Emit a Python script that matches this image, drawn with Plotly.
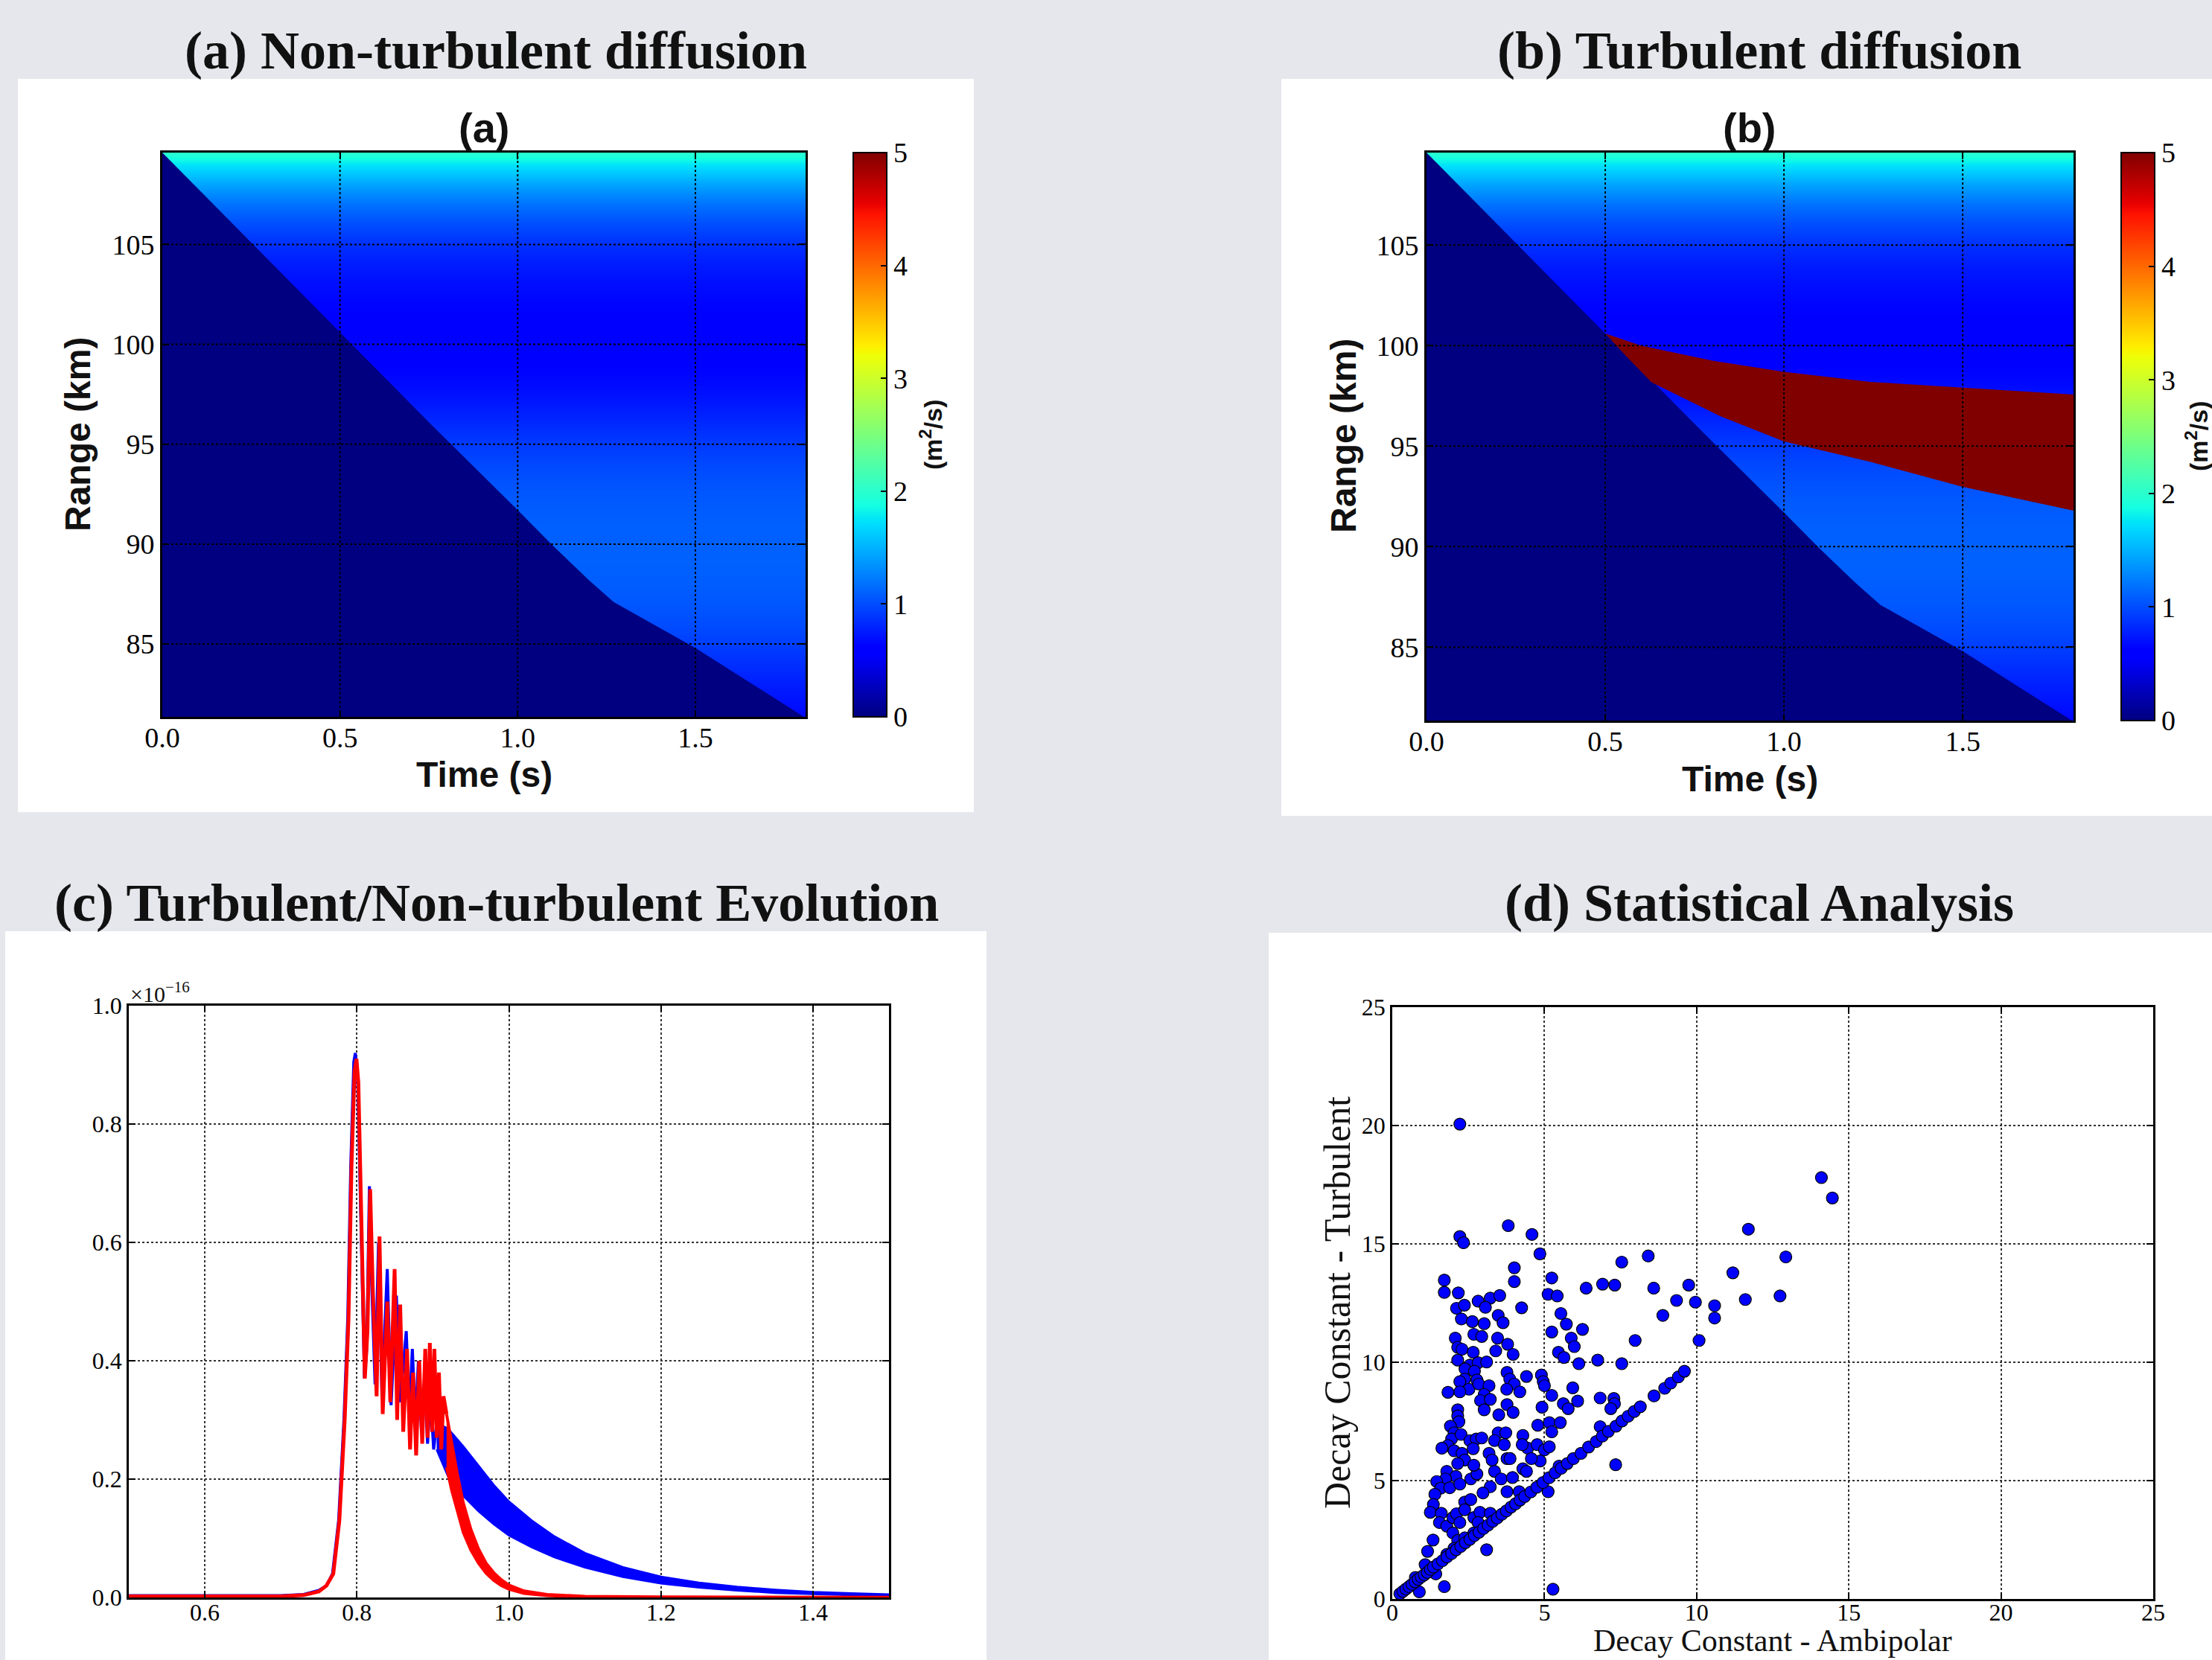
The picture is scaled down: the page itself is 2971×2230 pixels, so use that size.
import plotly.graph_objects as go

W, H = 2971, 2230


def px(x):
    return x / W


def py(y):
    return 1 - y / H


# ---------------- DATA ----------------
# Panels (a)/(b): background diffusion coefficient profile (m^2/s) vs range (km)
alt_km = [81.0, 82.0, 83.0, 84.0, 85.0, 86.0, 87.0, 88.0, 89.0, 90.0, 91.0, 92.0,
          93.0, 94.0, 95.0, 96.0, 97.0, 98.0, 99.0, 100.0, 101.0, 102.0, 103.0,
          104.0, 105.0, 106.0, 107.0, 107.5, 108.0, 108.5, 109.0, 109.5, 110.0]
diff_profile = [0.63, 0.70, 0.77, 0.85, 0.93, 1.00, 1.05, 1.08, 1.10, 1.10, 1.09, 1.07,
                1.03, 0.98, 0.91, 0.83, 0.74, 0.67, 0.62, 0.60, 0.61, 0.64, 0.69,
                0.76, 0.86, 1.00, 1.18, 1.30, 1.43, 1.58, 1.75, 1.95, 2.15]
time_cols = [0.0, 1.81]

# meteor front (below/left of it: no diffusion, value 0)
front_t = [0.0, 0.25, 0.5, 0.75, 1.0, 1.1, 1.2, 1.27, 1.35, 1.5, 1.65, 1.81]
front_km = [109.6, 105.1, 100.6, 96.1, 91.7, 89.9, 88.2, 87.1, 86.3, 84.8, 83.1, 81.3]

# turbulent layer (panel b, value 5)
red_top_t = [0.5, 0.6, 0.8, 1.0, 1.24, 1.5, 1.81]
red_top_km = [100.6, 100.0, 99.25, 98.7, 98.2, 97.9, 97.57]
red_bot_t = [0.5, 0.56, 0.63, 0.82, 1.0, 1.24, 1.5, 1.81]
red_bot_km = [100.6, 99.45, 98.17, 96.5, 95.23, 94.23, 92.98, 91.79]

T_RANGE = [0.0, 1.81]
KM_RANGE = [81.35, 109.6]
t_ticks = [0.0, 0.5, 1.0, 1.5]
km_ticks = [85, 90, 95, 100, 105]
cb_ticks = [0, 1, 2, 3, 4, 5]

# Panel (c): signal evolution (units of 1e-16)
blue_t = [0.50, 0.60, 0.70, 0.73, 0.75, 0.76, 0.768, 0.776, 0.783, 0.788, 0.792, 0.796,
          0.798, 0.801, 0.804, 0.807, 0.810, 0.813, 0.8165, 0.819, 0.824, 0.8285, 0.833,
          0.840, 0.845, 0.852, 0.857, 0.865, 0.869, 0.873, 0.877, 0.881, 0.885, 0.889,
          0.893, 0.897, 0.901, 0.905]
blue_v = [0.003, 0.003, 0.003, 0.005, 0.012, 0.02, 0.04, 0.13, 0.30, 0.47, 0.73, 0.905,
          0.92, 0.88, 0.70, 0.50, 0.37, 0.42, 0.695, 0.55, 0.36, 0.60, 0.34,
          0.555, 0.325, 0.51, 0.33, 0.45, 0.31, 0.42, 0.30, 0.40, 0.28, 0.37,
          0.26, 0.34, 0.25, 0.295]
blue_band_t = [0.905, 0.92, 0.94, 0.96, 0.98, 1.00, 1.03, 1.06, 1.10, 1.15, 1.20, 1.25,
               1.30, 1.35, 1.40, 1.45, 1.50]
blue_upper = [0.295, 0.285, 0.255, 0.222, 0.19, 0.162, 0.13, 0.103, 0.075, 0.051, 0.035,
              0.025, 0.018, 0.013, 0.009, 0.007, 0.005]
blue_lower = [0.25, 0.205, 0.172, 0.146, 0.124, 0.105, 0.085, 0.068, 0.051, 0.035, 0.024,
              0.017, 0.012, 0.008, 0.006, 0.004, 0.003]

red_t = [0.50, 0.60, 0.70, 0.73, 0.75, 0.76, 0.769, 0.777, 0.784, 0.789, 0.793, 0.797,
         0.7995, 0.802, 0.805, 0.808, 0.8105, 0.814, 0.8175, 0.821, 0.826, 0.8298, 0.834,
         0.840, 0.844, 0.8497, 0.853, 0.857, 0.861, 0.866, 0.870, 0.874, 0.878, 0.882,
         0.886, 0.890, 0.893, 0.896, 0.899, 0.902, 0.905, 0.908, 0.911, 0.914, 0.918]
red_v = [0.002, 0.002, 0.002, 0.004, 0.01, 0.02, 0.04, 0.13, 0.30, 0.47, 0.73, 0.89,
         0.91, 0.87, 0.70, 0.50, 0.37, 0.45, 0.69, 0.52, 0.34, 0.61, 0.31,
         0.50, 0.33, 0.555, 0.30, 0.495, 0.28, 0.42, 0.25, 0.38, 0.24, 0.40,
         0.26, 0.42, 0.27, 0.43, 0.28, 0.42, 0.27, 0.38, 0.25, 0.34, 0.31]
red_band_t = [0.918, 0.925, 0.932, 0.94, 0.95, 0.96, 0.97, 0.98, 0.99, 1.00, 1.02, 1.05,
              1.10, 1.20, 1.30, 1.50]
red_upper = [0.31, 0.26, 0.21, 0.16, 0.115, 0.082, 0.058, 0.042, 0.030, 0.021, 0.011,
             0.005, 0.002, 0.001, 0.0007, 0.0005]
red_lower = [0.22, 0.18, 0.145, 0.11, 0.08, 0.058, 0.041, 0.029, 0.020, 0.014, 0.007,
             0.003, 0.001, 0.0005, 0.0003, 0.0002]
c_xticks = [0.6, 0.8, 1.0, 1.2, 1.4]
c_yticks = [0.0, 0.2, 0.4, 0.6, 0.8, 1.0]

# Panel (d): decay constants
scatter_pts = [
    (2.22, 20.06), (14.1, 17.8), (14.46, 16.94), (11.70, 15.62), (12.93, 14.45), (11.19, 13.78),
    (3.81, 15.77), (2.22, 15.31), (2.34, 15.05), (4.59, 15.40), (4.85, 14.58), (8.41, 14.49),
    (7.54, 14.23), (4.01, 13.99), (4.01, 13.41), (5.24, 13.56), (1.71, 13.47), (1.71, 12.95),
    (2.17, 12.93), (2.11, 12.28), (2.37, 12.41), (5.12, 12.87), (5.42, 12.80), (6.37, 13.13),
    (6.91, 13.30), (7.31, 13.26), (8.59, 13.13), (9.74, 13.26), (9.34, 12.61), (9.96, 12.54),
    (10.59, 12.39), (11.60, 12.65), (12.74, 12.80), (8.89, 11.98), (10.59, 11.87), (10.08, 10.92),
    (7.98, 10.92), (4.25, 12.30), (2.82, 12.58), (3.22, 12.71), (3.53, 12.82), (3.06, 12.32),
    (2.27, 11.83), (2.63, 11.72), (3.02, 11.63), (3.48, 11.98), (3.64, 11.67), (2.07, 11.02),
    (2.68, 11.18), (2.94, 11.09), (3.46, 11.02), (3.79, 10.76), (2.15, 10.63), (2.29, 10.55),
    (2.66, 10.42), (3.40, 10.48), (3.97, 10.33), (2.15, 10.09), (2.55, 9.88), (2.82, 9.98),
    (3.10, 10.01), (5.24, 11.28), (5.54, 12.06), (5.72, 11.61), (6.25, 11.39), (5.88, 11.02),
    (5.46, 10.42), (5.64, 10.20), (5.98, 10.66), (6.13, 9.94), (6.75, 10.09), (7.54, 9.94),
    (2.39, 9.72), (2.70, 9.62), (2.38, 9.29), (2.78, 9.25), (2.22, 9.18), (2.52, 8.86),
    (2.22, 8.75), (1.83, 8.73), (2.84, 9.08), (3.18, 9.01), (3.02, 8.64), (3.77, 9.57),
    (3.86, 9.29), (4.01, 9.08), (3.76, 8.86), (4.19, 8.75), (4.41, 9.40), (4.90, 9.46),
    (4.96, 9.18), (5.00, 9.01), (5.24, 8.60), (5.93, 8.92), (6.09, 8.36), (5.62, 8.25),
    (5.78, 8.04), (4.92, 8.10), (2.90, 8.38), (3.22, 8.43), (3.02, 7.99), (2.15, 7.99),
    (2.15, 7.73), (2.19, 7.49), (3.77, 8.21), (3.97, 7.88), (3.50, 7.78), (3.48, 7.02),
    (3.73, 7.02), (4.29, 6.91), (4.78, 7.34), (5.16, 7.45), (5.52, 7.45), (5.24, 7.06),
    (6.83, 8.49), (7.28, 8.47), (7.30, 8.25), (7.18, 8.04), (6.83, 7.28), (7.34, 5.67),
    (1.91, 7.30), (2.03, 7.02), (1.95, 6.76), (2.26, 6.95), (1.83, 6.48), (1.63, 6.37),
    (2.03, 6.26), (2.29, 6.15), (2.55, 6.69), (2.76, 6.76), (2.94, 6.80), (2.66, 6.35),
    (2.38, 5.87), (2.15, 5.72), (1.79, 5.39), (2.09, 5.18), (1.75, 5.07), (1.46, 4.96),
    (1.59, 4.68), (1.89, 4.70), (2.22, 4.85), (2.58, 5.07), (2.78, 5.28), (2.68, 5.65),
    (3.18, 6.15), (3.28, 5.87), (3.36, 6.69), (3.68, 6.52), (3.36, 5.39), (3.22, 4.74),
    (2.98, 4.48), (3.58, 5.07), (3.77, 5.93), (3.87, 5.93), (3.95, 5.13), (4.29, 5.50),
    (4.45, 6.37), (4.27, 6.52), (4.76, 6.52), (5.00, 6.30), (5.16, 6.43), (4.86, 5.83),
    (4.57, 5.93), (4.41, 5.39), (4.17, 4.53), (3.77, 4.53), (5.12, 4.53), (5.48, 5.61),
    (1.40, 4.42), (1.35, 3.99), (1.25, 3.66), (1.61, 3.62), (1.55, 3.23), (1.79, 3.08),
    (1.99, 3.44), (2.11, 3.60), (2.22, 3.23), (2.38, 4.09), (2.58, 4.20), (2.38, 3.77),
    (2.68, 3.44), (2.88, 3.66), (3.22, 3.62), (2.82, 3.23), (1.99, 2.79), (2.15, 2.47),
    (2.38, 2.58), (2.68, 2.79), (2.03, 2.14), (1.79, 1.88), (1.34, 2.49), (1.16, 2.01),
    (3.10, 2.08), (1.71, 0.52), (0.89, 0.30), (5.28, 0.41), (0.76, 0.91), (1.43, 1.06),
    (1.08, 1.45),
    # points along the one-to-one line
    (0.25, 0.22), (0.35, 0.32), (0.45, 0.42), (0.55, 0.52), (0.65, 0.62), (0.75, 0.72),
    (0.85, 0.83), (0.95, 0.93), (1.05, 1.02), (1.15, 1.12), (1.25, 1.25), (1.35, 1.35),
    (1.5, 1.48), (1.65, 1.62), (1.8, 1.78), (1.95, 1.92), (2.1, 2.08), (2.25, 2.22),
    (2.4, 2.38), (2.55, 2.52), (2.7, 2.68), (2.85, 2.82), (3.0, 2.98), (3.15, 3.12),
    (3.3, 3.28), (3.45, 3.42), (3.6, 3.58), (3.75, 3.72), (3.9, 3.88), (4.05, 4.02),
    (4.2, 4.18), (4.35, 4.33), (4.55, 4.52), (4.75, 4.72), (4.95, 4.92), (5.15, 5.12),
    (5.35, 5.33), (5.55, 5.52), (5.75, 5.72), (5.95, 5.93), (6.2, 6.15), (6.45, 6.42),
    (6.7, 6.65), (6.9, 6.88), (7.1, 7.08), (7.35, 7.3), (7.55, 7.52), (7.75, 7.72),
    (7.95, 7.92), (8.15, 8.12), (8.6, 8.58), (8.95, 8.9), (9.15, 9.12), (9.4, 9.38),
    (9.6, 9.62),
]
decay_ambipolar = [p[0] for p in scatter_pts]
decay_turbulent = [p[1] for p in scatter_pts]
d_ticks = [0, 5, 10, 15, 20, 25]

# ---------------- STYLE ----------------
BG = '#e6e7ec'
SERIF = 'Liberation Serif'
SANS = 'Liberation Sans'
JET = [[0.0, 'rgb(0,0,128)'], [0.11, 'rgb(0,0,255)'], [0.125, 'rgb(0,0,255)'],
       [0.34, 'rgb(0,219,255)'], [0.35, 'rgb(0,229,247)'], [0.375, 'rgb(21,255,226)'],
       [0.64, 'rgb(238,255,8)'], [0.65, 'rgb(247,246,0)'], [0.66, 'rgb(255,236,0)'],
       [0.89, 'rgb(255,19,0)'], [0.91, 'rgb(232,0,0)'], [1.0, 'rgb(128,0,0)']]
NAVY = 'rgb(0,0,128)'
DARKRED = 'rgb(128,0,0)'

fig = go.Figure()


def colorbar(x0, ytop, ybot):
    return dict(x=px(x0), xanchor='left', y=py((ytop + ybot) / 2), yanchor='middle',
                lenmode='pixels', len=ybot - ytop, thicknessmode='pixels', thickness=45,
                xpad=0, ypad=0, outlinewidth=2, outlinecolor='black',
                tickvals=cb_ticks, ticktext=[str(v) for v in cb_ticks],
                ticks='inside', ticklen=9, tickwidth=2, tickcolor='black',
                tickfont=dict(family=SERIF, size=38, color='black'))


zgrid = [[v for _ in time_cols] for v in diff_profile]

# Panel (a)
fig.add_trace(go.Heatmap(x=time_cols, y=alt_km, z=zgrid, colorscale=JET, zmin=0, zmax=5,
                         zsmooth='best', xaxis='x', yaxis='y', hoverinfo='skip',
                         colorbar=colorbar(1146, 205, 963)))
fig.add_trace(go.Scatter(x=front_t + [T_RANGE[0]], y=front_km + [KM_RANGE[0]], fill='toself',
                         fillcolor=NAVY, mode='lines', line=dict(width=0, color=NAVY),
                         xaxis='x', yaxis='y', showlegend=False, hoverinfo='skip'))
# Panel (b)
fig.add_trace(go.Heatmap(x=time_cols, y=alt_km, z=zgrid, colorscale=JET, zmin=0, zmax=5,
                         zsmooth='best', xaxis='x2', yaxis='y2', hoverinfo='skip',
                         colorbar=colorbar(2849, 205, 968)))
fig.add_trace(go.Scatter(x=front_t + [T_RANGE[0]], y=front_km + [KM_RANGE[0]], fill='toself',
                         fillcolor=NAVY, mode='lines', line=dict(width=0, color=NAVY),
                         xaxis='x2', yaxis='y2', showlegend=False, hoverinfo='skip'))
fig.add_trace(go.Scatter(x=red_top_t + red_bot_t[::-1], y=red_top_km + red_bot_km[::-1],
                         fill='toself', fillcolor=DARKRED, mode='lines',
                         line=dict(width=0, color=DARKRED),
                         xaxis='x2', yaxis='y2', showlegend=False, hoverinfo='skip'))

# Panel (c)
fig.add_trace(go.Scatter(x=blue_t, y=blue_v, mode='lines', line=dict(color='#0000ff', width=4),
                         xaxis='x3', yaxis='y3', showlegend=False))
fig.add_trace(go.Scatter(x=blue_band_t + blue_band_t[::-1], y=blue_upper + blue_lower[::-1],
                         fill='toself', fillcolor='#0000ff', mode='lines',
                         line=dict(color='#0000ff', width=3),
                         xaxis='x3', yaxis='y3', showlegend=False))
fig.add_trace(go.Scatter(x=red_t, y=red_v, mode='lines', line=dict(color='#ff0000', width=5),
                         xaxis='x3', yaxis='y3', showlegend=False))
fig.add_trace(go.Scatter(x=red_band_t + red_band_t[::-1], y=red_upper + red_lower[::-1],
                         fill='toself', fillcolor='#ff0000', mode='lines',
                         line=dict(color='#ff0000', width=4),
                         xaxis='x3', yaxis='y3', showlegend=False))

# Panel (d)
fig.add_trace(go.Scatter(x=decay_ambipolar, y=decay_turbulent, mode='markers',
                         marker=dict(color='#0000ff', size=16, line=dict(color='black', width=1.2)),
                         xaxis='x4', yaxis='y4', showlegend=False))


def axis(domain, rng, tickvals, ticktext, anchor, fsize, grid=False, lw=3, standoff=0):
    d = dict(domain=domain, range=rng, tickvals=tickvals, ticktext=ticktext, anchor=anchor,
             ticks='inside', ticklen=9, tickwidth=2, tickcolor='black',
             showline=True, linewidth=lw, linecolor='black', mirror='ticks',
             zeroline=False, showgrid=grid, fixedrange=True, automargin=False,
             ticklabelstandoff=standoff,
             tickfont=dict(family=SERIF, size=fsize, color='black'))
    if grid:
        d.update(gridcolor='#333333', gridwidth=1.5, griddash='dot')
    return d


t_txt = ['%.1f' % v for v in t_ticks]
km_txt = [str(v) for v in km_ticks]
fig.update_layout(
    xaxis=axis([px(218), px(1082)], T_RANGE, t_ticks, t_txt, 'y', 38, standoff=-8),
    yaxis=axis([py(963), py(205)], KM_RANGE, km_ticks, km_txt, 'x', 38),
    xaxis2=axis([px(1916), px(2785)], T_RANGE, t_ticks, t_txt, 'y2', 38, standoff=-8),
    yaxis2=axis([py(968), py(205)], KM_RANGE, km_ticks, km_txt, 'x2', 38),
    xaxis3=axis([px(173), px(1194)], [0.5, 1.5], c_xticks, ['%.1f' % v for v in c_xticks],
                'y3', 32, grid=True, lw=2.5, standoff=-10),
    yaxis3=axis([py(2146), py(1351)], [0, 1.0], c_yticks, ['%.1f' % v for v in c_yticks],
                'x3', 32, grid=True, lw=2.5),
    xaxis4=axis([px(1870), px(2892)], [0, 25], d_ticks, [str(v) for v in d_ticks],
                'y4', 32, grid=True, lw=2.5, standoff=-12),
    yaxis4=axis([py(2148), py(1353)], [0, 25], d_ticks, [str(v) for v in d_ticks],
                'x4', 32, grid=True, lw=2.5),
)

shapes = []
# white panel boxes
for (x0, y0, x1, y1) in [(24, 106, 1308, 1091), (1721, 106, 2971, 1096),
                         (7, 1251, 1325, 2230), (1704, 1253, 2971, 2230)]:
    shapes.append(dict(type='rect', xref='paper', yref='paper', x0=px(x0), x1=px(x1),
                       y0=py(y1), y1=py(y0), fillcolor='white', line=dict(width=0),
                       layer='below'))
# dotted grid above the heat maps
for xa, ya in [('x', 'y'), ('x2', 'y2')]:
    for t in t_ticks[1:]:
        shapes.append(dict(type='line', xref=xa, yref=ya + ' domain', x0=t, x1=t, y0=0, y1=1,
                           line=dict(color='black', width=2, dash='dot'), layer='above'))
    for k in km_ticks:
        shapes.append(dict(type='line', xref=xa + ' domain', yref=ya, x0=0, x1=1, y0=k, y1=k,
                           line=dict(color='black', width=2, dash='dot'), layer='above'))
fig.update_layout(shapes=shapes)

ann = []


def text(s, x, y, font, size, bold=False, angle=0, xanchor='center', yanchor='middle'):
    ann.append(dict(text=s, xref='paper', yref='paper', x=px(x), y=py(y), showarrow=False,
                    xanchor=xanchor, yanchor=yanchor, textangle=angle,
                    font=dict(family=font, size=size, color='#111111',
                              weight='bold' if bold else 'normal')))


# panel titles
text('(a) Non-turbulent diffusion', 666, 68, SERIF, 72, bold=True)
text('(b) Turbulent diffusion', 2363, 68, SERIF, 72, bold=True)
text('(c) Turbulent/Non-turbulent Evolution', 667, 1213, SERIF, 72, bold=True)
text('(d) Statistical Analysis', 2363, 1213, SERIF, 72, bold=True)
# inner titles / axis titles for (a), (b)
text('(a)', 650, 171, SANS, 56, bold=True)
text('(b)', 2350, 171, SANS, 56, bold=True)
text('Time (s)', 650, 1040, SANS, 48, bold=True)
text('Time (s)', 2350, 1046, SANS, 48, bold=True)
text('Range (km)', 104, 584, SANS, 48, bold=True, angle=-90)
text('Range (km)', 1804, 586, SANS, 48, bold=True, angle=-90)
text('(m<sup>2</sup>/s)', 1250, 584, SANS, 34, bold=True, angle=-90)
text('(m<sup>2</sup>/s)', 2950, 586, SANS, 34, bold=True, angle=-90)
# (c) exponent
text('×10<sup>−16</sup>', 173, 1354, SERIF, 30, xanchor='left', yanchor='bottom')
# (d) axis titles
text('Decay Constant - Ambipolar', 2381, 2204, SERIF, 42)
text('Decay Constant - Turbulent', 1796, 1750, SERIF, 50, angle=-90)

fig.update_layout(annotations=ann, width=W, height=H,
                  margin=dict(l=0, r=0, t=0, b=0, pad=0, autoexpand=False),
                  paper_bgcolor=BG, plot_bgcolor='white', showlegend=False)

fig.write_html('out.html', config={'displayModeBar': False},
               post_script="document.body.style.margin='0px';"
                           "document.body.style.padding='0px';"
                           "document.body.style.overflow='hidden';")
